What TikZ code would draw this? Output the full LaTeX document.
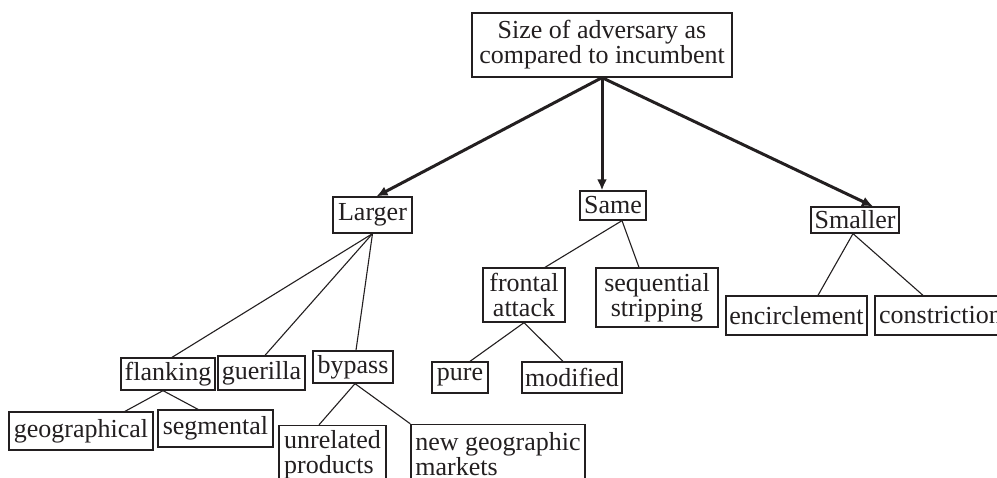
\documentclass[tikz,border=0pt]{standalone}
\usepackage{fontspec}
\setmainfont{Liberation Serif}
\usetikzlibrary{calc,arrows.meta}
\definecolor{ink}{RGB}{35,31,32}
\begin{document}
\begin{tikzpicture}[x=1pt,y=-1pt,
  box/.style={draw=ink, line width=1.3pt, text=ink, inner sep=2pt,
              font=\fontsize{26}{25}\selectfont},
  link/.style={draw=ink, line width=1.1pt},
  arr/.style={draw=ink, line width=3pt, -{Latex[length=11pt,width=10pt]}}]
\clip (0,0) rectangle (997,478);
\fill[white] (0,0) rectangle (997,478);

% root and first level
\node[box, minimum width=260, minimum height=64, align=center] (root) at (602,45)
  {Size of adversary as\\compared to incumbent};
\node[box, minimum width=79, minimum height=36] (larger) at (372.5,215) {Larger};
\node[box, minimum width=66, minimum height=29] (same) at (613,205.5) {Same};
\node[box, minimum width=88, minimum height=26] (smaller) at (855,220) {Smaller};

% larger branch
\node[box, minimum width=94, minimum height=32] (flanking) at (168,374) {flanking};
\node[box, minimum width=87, minimum height=34] (guerilla) at (261.5,373) {guerilla};
\node[box, minimum width=80, minimum height=32] (bypass) at (353,367) {bypass};
\node[box, minimum width=144, minimum height=38] (geo) at (81,431) {geographical};
\node[box, minimum width=115, minimum height=37] (seg) at (215.5,428.5) {segmental};
\node[box, minimum width=107, minimum height=59, align=left] (unrel) at (332.5,455)
  {unrelated\\products};
\node[box, minimum width=174, minimum height=59, align=left] (newgeo) at (498,454)
  {new geographic\\markets};

% same branch
\node[box, minimum width=82, minimum height=54, align=center] (frontal) at (524,295)
  {frontal\\attack};
\node[box, minimum width=122, minimum height=59, align=center] (seq) at (657,297.5)
  {sequential\\stripping};
\node[box, minimum width=56, minimum height=31] (pure) at (460,377.5) {pure};
\node[box, minimum width=100, minimum height=31] (modified) at (572,377.5) {modified};

% smaller branch
\node[box, minimum width=141, minimum height=39] (encircle) at (796.5,315.5) {encirclement};
\node[box, minimum width=131, minimum height=39] (constrict) at (940.5,315.5) {constriction};

% main arrows
\draw[arr] (root.south) -- ($(larger.north)+(4,0)$);
\draw[arr] (root.south) -- (root.south |- same.north);
\draw[arr] (root.south) -- ($(smaller.north)+(18,0)$);

% larger connectors
\draw[link] (larger.south) -- ($(flanking.north)+(4,0)$);
\draw[link] (larger.south) -- ($(guerilla.north)+(3.5,0)$);
\draw[link] (larger.south) -- ($(bypass.north)+(3,0)$);
\draw[link] ($(flanking.south)+(-5,0)$) -- ($(geo.north)+(44,0)$);
\draw[link] ($(flanking.south)+(-5,0)$) -- ($(seg.north)+(-17.5,0)$);
\draw[link] ($(bypass.south)+(2,0)$) -- ($(unrel.north)+(-13.5,0)$);
\draw[link] ($(bypass.south)+(2,0)$) -- (newgeo.north west);

% same connectors
\draw[link] ($(same.south)+(9,0)$) -- ($(frontal.north)+(21,0)$);
\draw[link] ($(same.south)+(9,0)$) -- ($(seq.north)+(-18,0)$);
\draw[link] (frontal.south) -- ($(pure.north)+(10,0)$);
\draw[link] (frontal.south) -- ($(modified.north)+(-9,0)$);

% smaller connectors
\draw[link] ($(smaller.south)+(-2,0)$) -- ($(encircle.north)+(21.5,0)$);
\draw[link] ($(smaller.south)+(-2,0)$) -- ($(constrict.north)+(-17.5,0)$);
\end{tikzpicture}
\end{document}
